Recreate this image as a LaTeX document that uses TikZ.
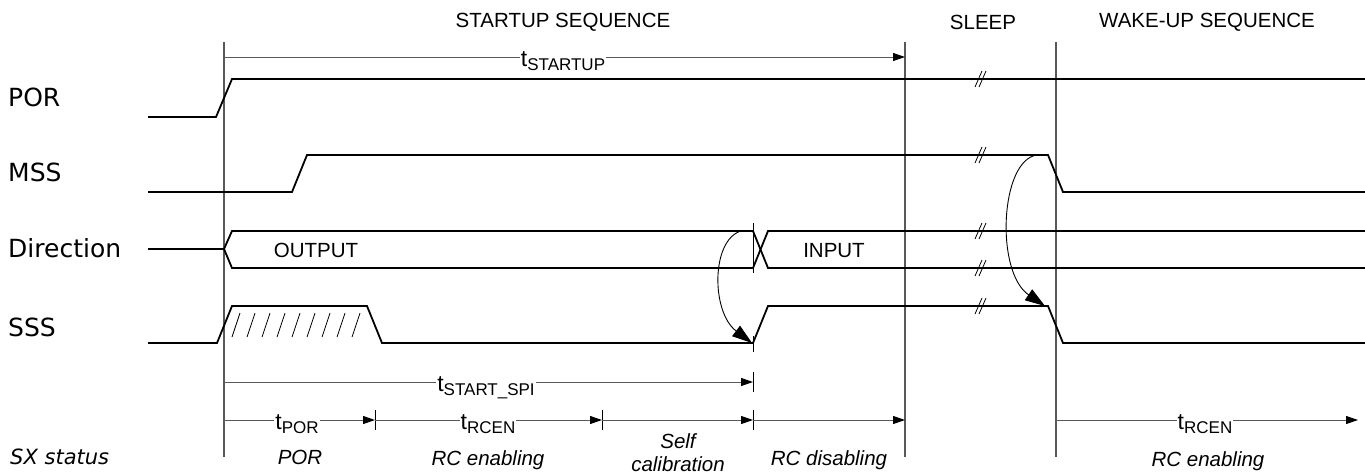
\documentclass[tikz,border=0pt]{standalone}
\usepackage{fontspec}
\setmainfont{Liberation Sans}
\newfontfamily\labfont{DejaVu Sans}
\usetikzlibrary{arrows.meta}
\newcommand{\txt}{\fontsize{20.5}{24}\selectfont}
\newcommand{\bigt}{\fontsize{23}{24}\selectfont}
\newcommand{\subt}{\fontsize{17}{20}\selectfont}
\newcommand{\tlab}[1]{{\bigt t}\raisebox{-4pt}{\subt #1}}
\begin{document}
\begin{tikzpicture}[x=1pt,y=-1pt,
  sig/.style={line width=1.8pt, line join=miter},
  guide/.style={line width=1.2pt, black!65},
  tarrow/.style={line width=1pt, black!65, -{Triangle[length=12pt,width=8pt,color=black]}},
  tick/.style={line width=1pt, black},
  brk/.style={line width=0.8pt, black},
  hatch/.style={line width=0.8pt, black},
  curv/.style={line width=0.9pt, black, -{Triangle[length=20pt,width=13pt]}},
  signame/.style={anchor=base west, inner sep=0pt, font=\labfont\fontsize{25}{28}\selectfont},
  head/.style={inner sep=0pt, font=\txt},
  tl/.style={fill=white, inner sep=1pt, anchor=base},
  stat/.style={anchor=base, inner sep=0pt, font=\txt\itshape},
  bus/.style={anchor=base, inner sep=0pt, font=\txt}]
\useasboundingbox (0,0) rectangle (1365,474);
\fill[white] (0,0) rectangle (1365,474);

% headers
\node[head] (hstart) at (563,22) {STARTUP SEQUENCE};
\node[head] (hsleep) at (983,22) {SLEEP};
\node[head] (hwake) at (1207,22) {WAKE-UP SEQUENCE};

% guide lines
\coordinate (g1t) at (224,42); \coordinate (g1b) at (224,457);
\coordinate (g2t) at (905,42); \coordinate (g2b) at (905,457);
\coordinate (g3t) at (1056,42); \coordinate (g3b) at (1056,457);
\draw[guide] (g1t) -- (g1b);
\draw[guide] (g2t) -- (g2b);
\draw[guide] (g3t) -- (g3b);

% signal names
\node[signame] (npor) at (8,106) {POR};
\node[signame] (nmss) at (8,181) {MSS};
\node[signame] (ndir) at (8,257) {Direction};
\node[signame] (nsss) at (8,336) {SSS};
\node[anchor=base west, inner sep=0pt, font=\labfont\itshape\fontsize{21}{24}\selectfont] (nsx) at (10,464) {SX status};

% POR
\draw[sig] (148,117) -- (216,117) -- (232,79) -- (1365,79);
% MSS
\draw[sig] (148,192) -- (292,192) -- (307,155) -- (1048,155) -- (1063,192) -- (1365,192);
% Direction
\draw[sig] (148,249) -- (224,249);
\draw[sig] (224,249) -- (232,231) -- (753,231) -- (768,268) -- (1365,268);
\draw[sig] (224,249) -- (232,268) -- (753,268) -- (768,231) -- (1365,231);
\node[bus] (out) at (316,257) {OUTPUT};
\node[bus] (inp) at (834,257) {INPUT};
% SSS
\draw[sig] (148,343) -- (217,343) -- (232,306) -- (367,306) -- (382,343) -- (753,343) -- (768,306) -- (1048,306) -- (1063,343) -- (1365,343);
\foreach \k in {0,...,8}{
  \draw[hatch] ({232+15*\k},337) -- ({240+15*\k},313);
}

% break marks
\foreach \yy in {79,155,231,268,306}{
  \draw[brk] (975,\yy+8) -- (982,\yy-8);
  \draw[brk] (979,\yy+8) -- (986,\yy-8);
}

% ticks at 753 etc.
\draw[tick] (753,223) -- (753,273);
\draw[tick] (753,336) -- (753,352);
\draw[tick] (753,372) -- (753,392);
\draw[tick] (753,410) -- (753,430);
\draw[tick] (375,410) -- (375,430);
\draw[tick] (602,410) -- (602,430);

% curved arrows
\coordinate (c1s) at (741,231); \coordinate (c1e) at (752,343);
\draw[curv] (c1s) .. controls (711,240) and (711,312) .. (c1e);
\coordinate (c2s) at (1037,155); \coordinate (c2e) at (1045,306);
\draw[curv] (c2s) .. controls (1000,160) and (995,272) .. (c2e);

% timing arrows
\coordinate (a0) at (224,57); \coordinate (a1) at (905,57);
\draw[tarrow] (a0) -- (a1);
\node[tl] (tst) at (563,66) {\tlab{STARTUP}};

\coordinate (s0) at (224,382); \coordinate (s1) at (753,382);
\draw[tarrow] (s0) -- (s1);
\node[tl] (tspi) at (486,391) {\tlab{START\_SPI}};

\coordinate (r0) at (224,420); \coordinate (r1) at (375,420);
\coordinate (r2) at (602,420); \coordinate (r3) at (753,420);
\coordinate (r4) at (905,420);
\coordinate (r5) at (1056,420); \coordinate (r6) at (1358,420);
\draw[tarrow] (r0) -- (r1);
\draw[tarrow] (r1) -- (r2);
\draw[tarrow] (r2) -- (r3);
\draw[tarrow] (r3) -- (r4);
\draw[tarrow] (r5) -- (r6);
\node[tl] (tpor) at (297,429) {\tlab{POR}};
\node[tl] (trc1) at (488,429) {\tlab{RCEN}};
\node[tl] (trc2) at (1205,429) {\tlab{RCEN}};

% status labels
\node[stat] (spor) at (300,464) {POR};
\node[stat] (src1) at (488,465) {RC enabling};
\node[stat] (sself) at (678,448) {Self};
\node[stat] (scal) at (678,471) {calibration};
\node[stat] (srcd) at (829,465) {RC disabling};
\node[stat] (src2) at (1208,466) {RC enabling};
\end{tikzpicture}
\end{document}
